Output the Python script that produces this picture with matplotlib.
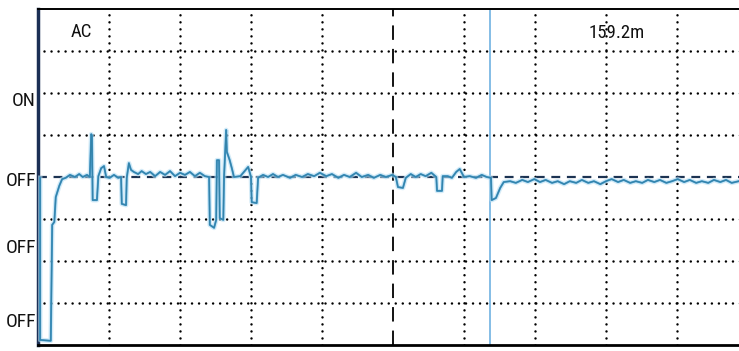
import matplotlib
matplotlib.use("Agg")
import matplotlib.pyplot as plt

# Scope trace, in screen divisions (x: 0..10 across, y: -4..4 with 0 at centre)
trace_x = [0.03, 0.03, 0.18, 0.20, 0.23, 0.25, 0.30, 0.34, 0.39, 0.45,
           0.52, 0.58, 0.63, 0.69, 0.73, 0.75, 0.76, 0.77, 0.83, 0.85,
           0.89, 0.93, 0.96, 1.01, 1.07, 1.13, 1.17, 1.18, 1.24, 1.25,
           1.28, 1.31, 1.35, 1.41, 1.46, 1.52, 1.58, 1.65, 1.72, 1.79,
           1.86, 1.93, 2.00, 2.07, 2.14, 2.21, 2.28, 2.35, 2.41, 2.42,
           2.48, 2.51, 2.52, 2.55, 2.56, 2.61, 2.62, 2.65, 2.66, 2.70,
           2.73, 2.76, 2.85, 2.90, 2.96, 3.00, 3.01, 3.08, 3.10, 3.17,
           3.24, 3.31, 3.38, 3.45, 3.55, 3.63, 3.72, 3.80, 3.89, 3.97,
           4.06, 4.14, 4.23, 4.31, 4.39, 4.48, 4.56, 4.65, 4.73, 4.82,
           4.90, 4.99, 5.04, 5.07, 5.14, 5.18, 5.25, 5.32, 5.39, 5.46,
           5.54, 5.61, 5.62, 5.69, 5.70, 5.77, 5.83, 5.89, 5.94, 6.00,
           6.08, 6.17, 6.25, 6.32, 6.38, 6.39, 6.45, 6.51, 6.56, 6.65,
           6.73, 6.82, 6.90, 6.99, 7.07, 7.15, 7.24, 7.32, 7.41, 7.49,
           7.58, 7.66, 7.75, 7.83, 7.92, 8.00, 8.08, 8.17, 8.25, 8.34,
           8.42, 8.51, 8.59, 8.68, 8.76, 8.85, 8.93, 9.01, 9.10, 9.18,
           9.27, 9.35, 9.44, 9.52, 9.61, 9.69, 9.77, 9.87]
trace_y = [-0.02, -3.88, -3.90, -1.14, -1.07, -0.48, -0.21, -0.05, -0.02, 0.05,
           0.00, 0.07, 0.00, 0.05, 0.00, 1.02, 0.98, -0.55, -0.55, 0.02,
           0.21, 0.26, 0.00, -0.02, 0.05, -0.02, 0.00, -0.64, -0.67, -0.02,
           0.33, 0.17, 0.12, 0.07, 0.14, 0.07, 0.12, 0.02, 0.12, 0.05,
           0.14, 0.02, 0.10, 0.05, 0.12, 0.02, 0.10, 0.02, 0.00, -1.14,
           -1.21, -1.02, 0.40, 0.40, -0.98, -1.02, -0.02, 1.12, 0.60, 0.40,
           0.21, 0.00, 0.02, 0.12, 0.24, 0.00, -0.60, -0.62, -0.02, 0.05,
           0.00, 0.07, 0.00, 0.05, -0.02, 0.05, 0.00, 0.07, 0.02, 0.10,
           0.02, 0.07, -0.02, 0.05, 0.00, 0.10, 0.00, 0.05, -0.02, 0.05,
           0.00, 0.05, 0.00, -0.24, -0.26, -0.02, 0.07, 0.00, 0.07, 0.02,
           0.10, 0.00, -0.33, -0.33, 0.02, 0.02, -0.02, 0.12, 0.19, 0.00,
           0.02, -0.02, 0.05, 0.00, -0.02, -0.55, -0.50, -0.26, -0.12, -0.10,
           -0.14, -0.07, -0.12, -0.05, -0.12, -0.07, -0.14, -0.10, -0.17, -0.10,
           -0.14, -0.07, -0.14, -0.10, -0.17, -0.10, -0.05, -0.12, -0.07, -0.14,
           -0.10, -0.14, -0.07, -0.12, -0.07, -0.14, -0.10, -0.05, -0.12, -0.07,
           -0.14, -0.10, -0.14, -0.07, -0.12, -0.07, -0.14, -0.10]

state_labels = ["ON", "OFF", "OFF", "OFF"]
state_levels = [1.81, -0.10, -1.69, -3.45]
coupling = "AC"
cursor_reading = "159.2m"
cursor_x = 6.37

fig = plt.figure(figsize=(7.39, 3.51), dpi=100)
ax = fig.add_axes([38 / 739, 6 / 351, 701 / 739, 336 / 351])
ax.set_xlim(0, 701 / 71)
ax.set_ylim(-4, 4)
ax.set_xticks([])
ax.set_yticks([])

# Dotted graticule
for gx in [1, 2, 3, 4, 6, 7, 8, 9]:
    ax.axvline(gx, color="black", lw=1.8, ls=(0, (0.01, 2.8)),
               dash_capstyle="round", zorder=1)
for gy in [-3, -2, -1, 1, 2, 3]:
    ax.plot([0.08, 10], [gy, gy], color="black", lw=1.8, ls=(0, (0.01, 2.8)),
            dash_capstyle="round", zorder=1)
ax.axvline(5, color="black", lw=1.3, ls=(0, (8, 5)), zorder=1)
ax.axhline(0, color="#1c3352", lw=1.6, ls=(0, (4, 3)), zorder=1)

# Cursor
ax.axvline(cursor_x, color="#6fb2e2", lw=1.2, zorder=2)

# Trace: light glow underneath, teal core on top
ax.plot(trace_x, trace_y, color="#b8def2", lw=3.4, alpha=0.6, zorder=3)
ax.plot(trace_x, trace_y, color="#4fa3d6", lw=1.5, zorder=4)
ax.plot(trace_x, trace_y, color="#236f8e", lw=1.0, alpha=0.6, zorder=5)

ax.spines["right"].set_visible(False)
ax.spines["left"].set_color("#1b2f55")
ax.spines["left"].set_linewidth(2.5)
ax.spines["top"].set_linewidth(1.4)
ax.spines["bottom"].set_linewidth(2.0)

font = ["Roboto Condensed", "Liberation Sans", "DejaVu Sans"]
for lab, lev in zip(state_labels, state_levels):
    ax.text(-0.03, lev, lab, ha="right", va="center", fontsize=14,
            family=font, color="#111111", clip_on=False)
ax.text(0.61, 3.45, coupling, ha="center", va="center", fontsize=13.5,
        family=font, color="#111111")
ax.text(8.15, 3.43, cursor_reading, ha="center", va="center", fontsize=13.5,
        family=font, color="#111111")

fig.savefig("out.png", dpi=100, facecolor="white")
